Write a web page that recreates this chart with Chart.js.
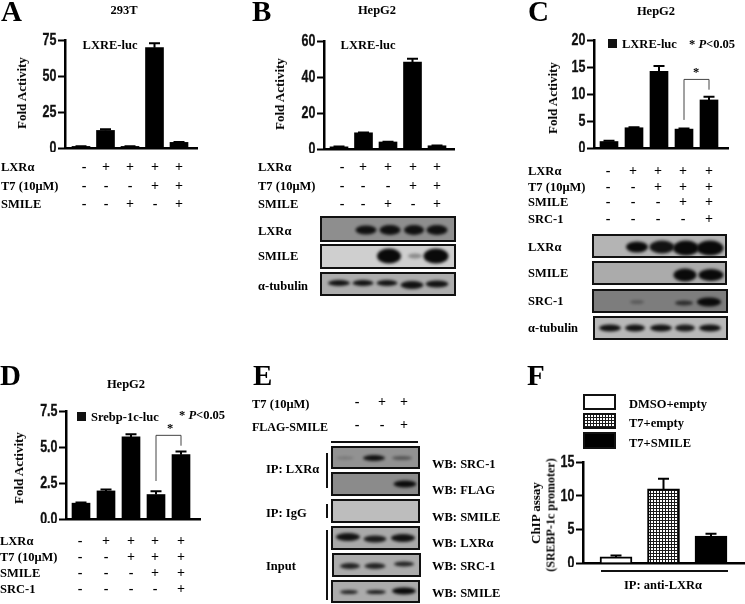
<!DOCTYPE html>
<html>
<head>
<meta charset="utf-8">
<script src="https://cdn.jsdelivr.net/npm/chart.js@4"></script>
<style>
  html, body { margin: 0; background: #fff; }
  #page { position: relative; width: 745px; height: 604px; overflow: hidden; background: #fff; filter: blur(0.35px); font: bold 12.5px "Liberation Serif", serif; color: #000; }
  #page canvas { position: absolute; }
  .t { position: absolute; white-space: nowrap; transform: translateY(-50%); will-change: transform; }
  .c { transform: translate(-50%, -50%); }
  .r { transform: translate(-50%, -50%) rotate(-90deg); font-size: 13px; }
  .blot { position: absolute; box-sizing: border-box; border: 2px solid #111; overflow: hidden; }
  .band { position: absolute; border-radius: 50%; filter: blur(1.5px); transform: translate(-50%, -50%); }
  .bar { position: absolute; background: #111; }
  .box { position: absolute; box-sizing: border-box; border: 2.5px solid #111; }
</style>
</head>
<body>
<div id="page"></div>
<script>
// Datos de las barras
const aValues = [1.1, 12.2, 1.1, 69.7, 3.9];
const aErrors = [1.3, 13.1, 1.3, 72.7, 4.2];
const aTicks = ["0", "25", "50", "75"];
const aLxr = ["-", "+", "+", "+", "+"];
const aT7 = ["-", "-", "-", "+", "+"];
const aSmile = ["-", "-", "+", "-", "+"];

const bValues = [1.2, 9, 3.9, 48.3, 1.8];
const bErrors = [1.4, 9.1, 4.0, 50.2, 2.0];
const bTicks = ["0", "20", "40", "60"];
const bLxr = ["-", "+", "+", "+", "+"];
const bT7 = ["-", "-", "-", "+", "+"];
const bSmile = ["-", "-", "+", "-", "+"];

const cValues = [1.2, 3.75, 14.2, 3.5, 8.9];
const cErrors = [1.35, 3.85, 15.2, 3.6, 9.5];
const cTicks = ["0", "5", "10", "15", "20"];
const cLxr = ["-", "+", "+", "+", "+"];
const cT7 = ["-", "-", "+", "+", "+"];
const cSmile = ["-", "-", "-", "+", "+"];
const cSrc = ["-", "-", "-", "-", "+"];

const dValues = [1.1, 1.95, 5.7, 1.7, 4.47];
const dErrors = [1.15, 2.05, 5.88, 1.92, 4.68];
const dTicks = ["0.0", "2.5", "5.0", "7.5"];
const dLxr = ["-", "+", "+", "+", "+"];
const dT7 = ["-", "-", "+", "+", "+"];
const dSmile = ["-", "-", "-", "+", "+"];
const dSrc = ["-", "-", "-", "-", "+"];

const eT7 = ["-", "+", "+"];
const eFlag = ["-", "-", "+"];

const fNames = ["DMSO+empty", "T7+empty", "T7+SMILE"];
const fValues = [0.9, 11, 4.0];
const fErrors = [1.1, 12.5, 4.35];
const fTicks = ["0", "5", "10", "15"];

const page = document.getElementById("page");

function el(cls, css, text) {
  const d = document.createElement("div");
  d.className = cls;
  d.style.cssText = css;
  if (text !== undefined) d.innerHTML = text;
  page.appendChild(d);
  return d;
}
function txt(s, x, y, extra) { el("t", `left:${x}px;top:${y}px;${extra || ""}`, s); }
function ctr(s, x, y, extra) { el("t c", `left:${x}px;top:${y}px;${extra || ""}`, s); }
function rot(s, x, y, extra) { el("t r", `left:${x}px;top:${y}px;${extra || ""}`, s); }
function letter(s, x, y) { el("t", `left:${x}px;top:${y}px;font-size:29px;`, s); }
function bar(x, y, w, h) { el("bar", `left:${x}px;top:${y}px;width:${w}px;height:${h}px;`); }

function signs(row, xs, y) {
  row.forEach((s, i) => ctr(s, xs[i], y, "font-size:14px;"));
}

// bandas del western blot: [cx, cy, ancho, alto, opacidad]
function blot(x, y, w, h, bg, bands) {
  const b = el("blot", `left:${x}px;top:${y}px;width:${w}px;height:${h}px;background:${bg};`);
  (bands || []).forEach(k => {
    const d = document.createElement("div");
    d.className = "band";
    d.style.cssText = `left:${k[0] - x - 2}px;top:${k[1] - y - 2}px;width:${k[2]}px;height:${k[3]}px;background:#0a0a0a;opacity:${k[4]};`;
    b.appendChild(d);
  });
}

// Barras de error, corchete de significancia y numeros del eje y (angostos)
function marksPlugin(errors, bracket, labels, tickVals) {
  return {
    id: "marks",
    afterDatasetsDraw(chart) {
      const ctx = chart.ctx, sx = chart.scales.x, sy = chart.scales.y;
      ctx.save();
      ctx.strokeStyle = "#000";
      ctx.lineWidth = 2;
      errors.forEach((e, i) => {
        const x = sx.getPixelForValue(i);
        ctx.beginPath();
        ctx.moveTo(x, sy.getPixelForValue(e));
        ctx.lineTo(x, sy.getPixelForValue(chart.data.datasets[0].data[i].y));
        ctx.moveTo(x - 5.5, sy.getPixelForValue(e));
        ctx.lineTo(x + 5.5, sy.getPixelForValue(e));
        ctx.stroke();
      });
      if (bracket) {
        ctx.strokeStyle = "#444";
        ctx.lineWidth = 1;
        ctx.beginPath();
        ctx.moveTo(sx.getPixelForValue(bracket[0]), sy.getPixelForValue(bracket[2]));
        ctx.lineTo(sx.getPixelForValue(bracket[0]), sy.getPixelForValue(bracket[3]));
        ctx.lineTo(sx.getPixelForValue(bracket[1]), sy.getPixelForValue(bracket[3]));
        ctx.lineTo(sx.getPixelForValue(bracket[1]), sy.getPixelForValue(bracket[4]));
        ctx.stroke();
      }
      ctx.fillStyle = "#111";
      ctx.strokeStyle = "#111";
      ctx.lineWidth = 0.3;
      ctx.font = 'bold 16px "Liberation Sans", sans-serif';
      ctx.textAlign = "right";
      ctx.textBaseline = "middle";
      labels.forEach((s, i) => {
        ctx.save();
        ctx.translate(sy.right - 8.5, sy.getPixelForValue(tickVals[i]) + 0.5);
        ctx.scale(0.78, 1);
        ctx.fillText(s, 0, 0);
        ctx.strokeText(s, 0, 0);
        ctx.restore();
      });
      ctx.restore();
    }
  };
}

// left/right: eje x; top/bottom: pixel del maximo y del cero; first/step: centro de barras
function panel(o) {
  const padL = 40, padT = 10, padB = 4, padR = 1;
  const cv = document.createElement("canvas");
  const w = o.right - o.left + padL + padR, h = o.bottom - o.top + padT + padB;
  cv.width = w; cv.height = h;
  cv.style.left = (o.left - padL) + "px";
  cv.style.top = (o.top - padT) + "px";
  cv.style.width = w + "px"; cv.style.height = h + "px";
  page.appendChild(cv);
  const tickVals = o.ticks.map(Number);
  return new Chart(cv.getContext("2d"), {
    type: "bar",
    data: {
      datasets: [{
        data: o.values.map((v, i) => ({ x: i, y: v })),
        backgroundColor: o.colors || "#000",
        borderColor: "#000",
        borderWidth: o.border || 0,
        barThickness: o.barWidth,
      }],
    },
    options: {
      responsive: false,
      animation: false,
      layout: { padding: { left: 0, top: padT, right: padR, bottom: 0 } },
      plugins: { legend: { display: false }, tooltip: { enabled: false } },
      scales: {
        x: {
          type: "linear",
          offset: false,
          min: (o.left - o.first) / o.step,
          max: (o.right - o.first) / o.step,
          grid: { display: false },
          ticks: { display: false },
          border: { color: "#000", width: 2.5 },
          afterFit(s) { s.height = padB; },
        },
        y: {
          min: 0,
          max: tickVals[tickVals.length - 1],
          afterBuildTicks(s) { s.ticks = tickVals.map(v => ({ value: v })); },
          afterFit(s) { s.width = padL; },
          grid: { drawOnChartArea: false, tickLength: 7, tickWidth: 2, tickColor: "#000" },
          border: { color: "#000", width: 2.5 },
          ticks: { display: false },
        },
      },
    },
    plugins: [marksPlugin(o.errors, o.bracket, o.ticks, tickVals)],
  });
}

// Patron punteado de la barra T7+empty
const tile = document.createElement("canvas");
tile.width = 3; tile.height = 3;
const tileCtx = tile.getContext("2d");
tileCtx.fillStyle = "#1a1a1a";
tileCtx.fillRect(0, 0, 3, 3);
tileCtx.fillStyle = "#fff";
tileCtx.fillRect(0, 0, 2, 2);
const dotted = tileCtx.createPattern(tile, "repeat");

// ---- Panel A
letter("A", 1, 11);
ctr("293T", 124, 10);
ctr("LXRE-luc", 110, 45);
rot("Fold Activity", 22, 93);
panel({ left: 65, right: 197, top: 40, bottom: 148, first: 81, step: 24.5, barWidth: 18, values: aValues, errors: aErrors, ticks: aTicks });
[["LXRα", 167, aLxr], ["T7 (10μM)", 186, aT7], ["SMILE", 204, aSmile]].forEach(r => {
  txt(r[0], 1, r[1]);
  signs(r[2], [84, 106, 130, 155, 179], r[1]);
});

// ---- Panel B
letter("B", 252, 11);
ctr("HepG2", 377, 10);
ctr("LXRE-luc", 368, 45);
rot("Fold Activity", 280, 94);
panel({ left: 324, right: 454, top: 41, bottom: 149, first: 339, step: 24.5, barWidth: 18, values: bValues, errors: bErrors, ticks: bTicks });
[["LXRα", 167, bLxr], ["T7 (10μM)", 186, bT7], ["SMILE", 204, bSmile]].forEach(r => {
  txt(r[0], 258, r[1]);
  signs(r[2], [342, 363, 388, 413, 437], r[1]);
});
blot(320, 216, 136, 26, "#8e8e8e", [[366, 230, 21, 9, .95], [390, 230, 21, 10, .95], [414, 230, 20, 10, .95], [437, 230, 21, 10, .95]]);
blot(320, 244, 136, 25, "#cfcfcf", [[389, 256, 24, 15, 1], [415, 256, 14, 5, .35], [436, 256, 25, 15, 1]]);
blot(320, 272, 136, 24, "#adadad", [[339, 283, 22, 6, .95], [363, 283, 21, 6, .95], [387, 283, 21, 6, .95], [412, 285, 23, 8, .95], [437, 284, 23, 7, .95]]);
txt("LXRα", 258, 231);
txt("SMILE", 258, 256);
txt("α-tubulin", 258, 286);

// ---- Panel C
letter("C", 528, 11);
ctr("HepG2", 656, 11);
bar(608, 39, 9, 9);
txt("LXRE-luc", 622, 44);
txt("* <i>P</i>&lt;0.05", 689, 44);
rot("Fold Activity", 553, 98);
panel({ left: 594, right: 728, top: 40, bottom: 148, first: 609, step: 25, barWidth: 18, values: cValues, errors: cErrors, ticks: cTicks, bracket: [3, 4, 5.2, 12.7, 10.8] });
ctr("*", 696, 72);
[["LXRα", 171, cLxr], ["T7 (10μM)", 187, cT7], ["SMILE", 202, cSmile], ["SRC-1", 219, cSrc]].forEach(r => {
  txt(r[0], 528, r[1]);
  signs(r[2], [608, 633, 658, 683, 709], r[1]);
});
blot(592, 234, 135, 24, "#b4b4b4", [[637, 247, 22, 11, 1], [662, 247, 25, 13, .95], [686, 248, 26, 15, 1], [710, 248, 27, 15, 1]]);
blot(592, 261, 135, 24, "#ababab", [[685, 275, 23, 13, 1], [711, 275, 25, 12, 1]]);
blot(592, 289, 136, 24, "#7d7d7d", [[637, 302, 14, 4, .3], [684, 303, 18, 5, .7], [709, 302, 24, 9, 1]]);
blot(593, 316, 135, 24, "#b8b8b8", [[610, 328, 22, 7, .95], [635, 328, 20, 7, .95], [661, 328, 22, 7, .95], [685, 328, 20, 7, .9], [710, 328, 22, 7, .95]]);
txt("LXRα", 528, 247);
txt("SMILE", 528, 273);
txt("SRC-1", 528, 301);
txt("α-tubulin", 528, 328);

// ---- Panel D
letter("D", 0, 375);
ctr("HepG2", 126, 384);
bar(77, 412, 9, 9);
txt("Srebp-1c-luc", 91, 417);
txt("* <i>P</i>&lt;0.05", 179, 415);
rot("Fold Activity", 19, 468);
panel({ left: 66, right: 200, top: 411, bottom: 519, first: 81, step: 25, barWidth: 18, values: dValues, errors: dErrors, ticks: dTicks, bracket: [3, 4, 2.64, 5.81, 5.09] });
ctr("*", 170, 428);
[["LXRα", 541, dLxr], ["T7 (10μM)", 557, dT7], ["SMILE", 573, dSmile], ["SRC-1", 589, dSrc]].forEach(r => {
  txt(r[0], 0, r[1]);
  signs(r[2], [80, 106, 131, 155, 181], r[1]);
});

// ---- Panel E
letter("E", 253, 375);
txt("T7 (10μM)", 252, 404);
txt("FLAG-SMILE", 252, 427, "font-size:12px;");
signs(eT7, [357, 382, 404], 402);
signs(eFlag, [357, 382, 404], 425);
bar(331, 441, 87, 2);
blot(331, 446, 89, 23, "#929292", [[345, 458, 18, 3, .2], [374, 458, 22, 6, .95], [402, 458, 20, 4, .45]]);
blot(331, 472, 89, 24, "#8b8b8b", [[405, 484, 23, 7, 1]]);
blot(331, 499, 89, 24, "#bdbdbd");
blot(331, 526, 89, 24, "#a9a9a9", [[348, 537, 24, 8, .95], [375, 539, 23, 7, .9], [403, 538, 24, 8, .95]]);
blot(332, 553, 89, 24, "#ababab", [[350, 566, 20, 6, .85], [375, 566, 21, 6, .85], [404, 564, 20, 5, .85]]);
blot(331, 580, 89, 23, "#ababab", [[349, 592, 18, 4, .85], [376, 592, 20, 4, .9], [404, 591, 24, 7, 1]]);
bar(326, 453, 2, 35);
bar(326, 504, 2, 14);
bar(326, 530, 2, 70);
txt("IP: LXRα", 266, 469);
txt("IP: IgG", 266, 513);
txt("Input", 266, 566);
[["WB: SRC-1", 464], ["WB: FLAG", 490], ["WB: SMILE", 517], ["WB: LXRα", 543], ["WB: SRC-1", 566], ["WB: SMILE", 593]].forEach(r => txt(r[0], 432, r[1]));

// ---- Panel F
letter("F", 527, 375);
el("box", "left:583px;top:394px;width:33px;height:16px;background:#fff;");
el("box", `left:583px;top:413px;width:33px;height:16px;background-image:url(${tile.toDataURL()});`);
el("box", "left:583px;top:432px;width:33px;height:17px;background:#000;");
txt(fNames[0], 629, 404);
txt(fNames[1], 629, 423);
txt(fNames[2], 629, 443);
rot("ChIP assay", 536, 513);
rot("(SREBP-1c promoter)", 551, 515, "font-size:12px;");
panel({ left: 583, right: 745, top: 462, bottom: 563, first: 616, step: 47.5, barWidth: 32, border: 2, colors: ["#fff", dotted, "#000"], values: fValues, errors: fErrors, ticks: fTicks });
bar(601, 570, 127, 2);
ctr("IP: anti-LXRα", 663, 585);
</script>
</body>
</html>
